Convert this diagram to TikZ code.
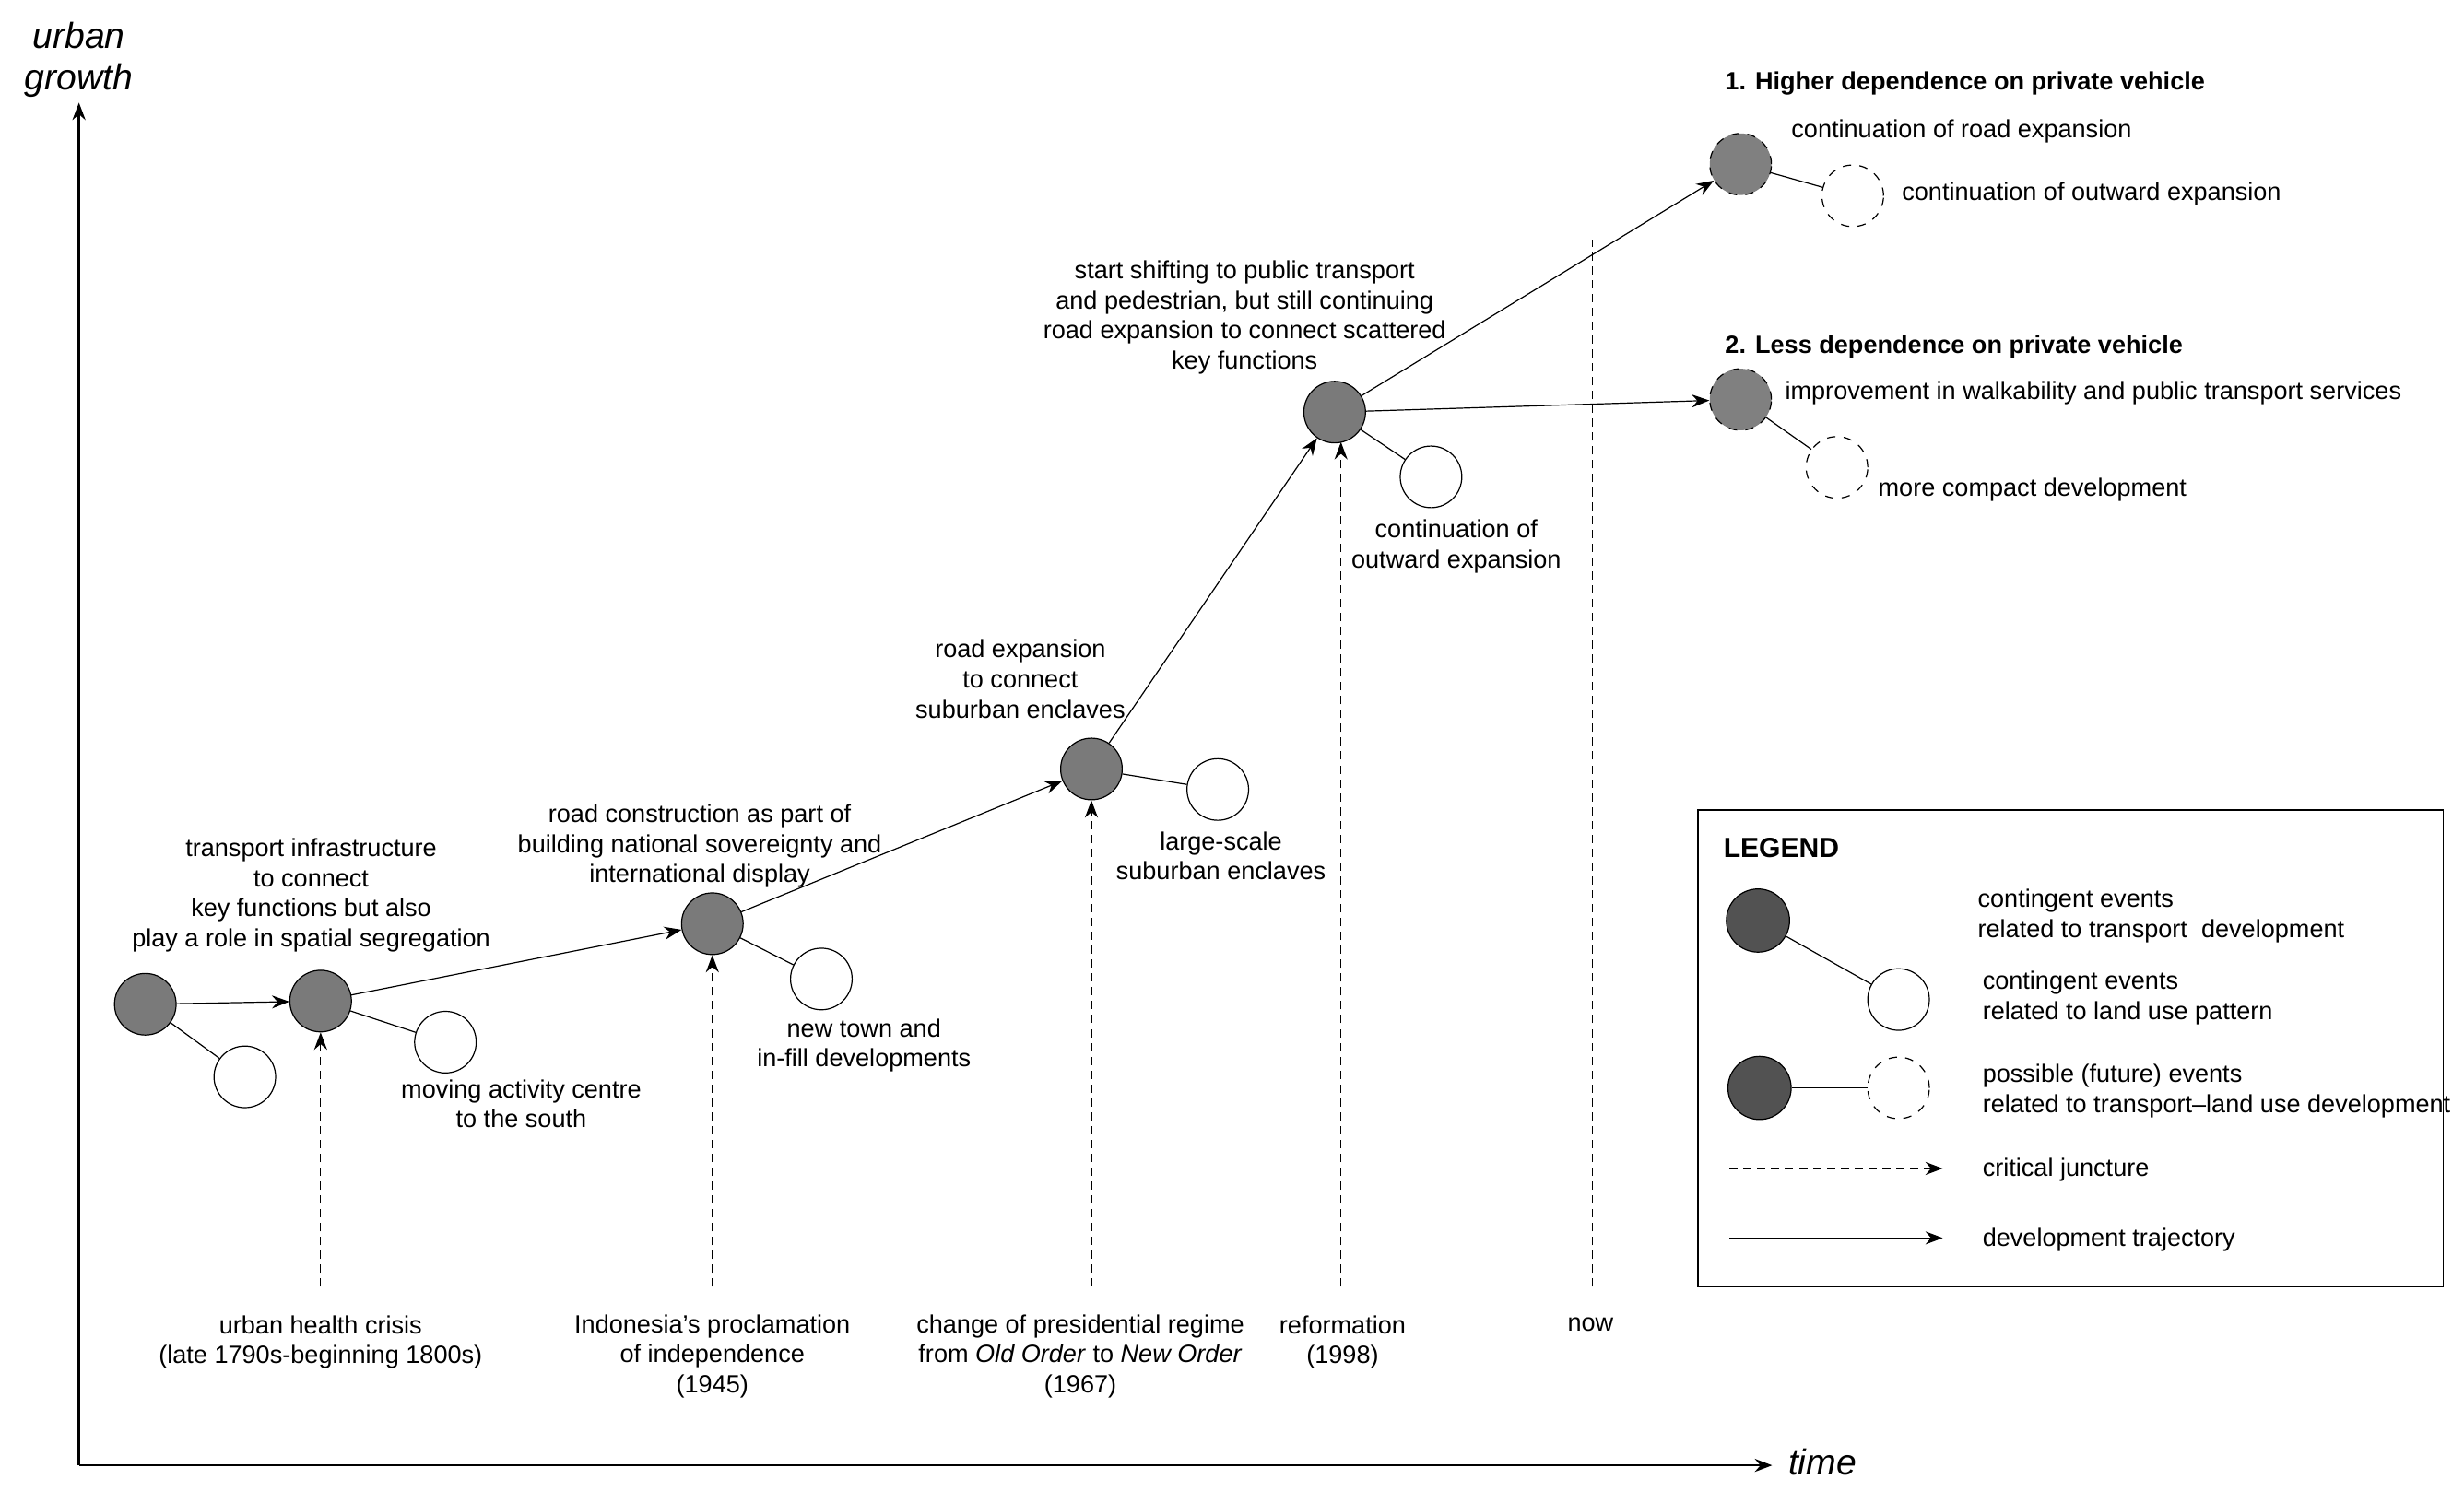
\documentclass[tikz,border=0pt]{standalone}
\usepackage{fontspec}
\setmainfont{Liberation Sans}
\usetikzlibrary{arrows.meta}
\begin{document}
\begin{tikzpicture}[
    x=0.02cm, y=-0.02cm,
    font=\fontsize{9}{10.8}\selectfont,
    event/.style={circle, draw, fill=gray!110!black, fill=black!52, minimum size=0.78cm, inner sep=0pt},
    landuse/.style={circle, draw, fill=white, minimum size=0.78cm, inner sep=0pt},
    future/.style={circle, draw, dashed, fill=black!50, minimum size=0.78cm, inner sep=0pt},
    futureland/.style={circle, draw, dashed, fill=white, minimum size=0.78cm, inner sep=0pt},
    legevent/.style={circle, draw, fill=black!68, minimum size=0.8cm, inner sep=0pt},
    label/.style={align=center},
    note/.style={align=left, anchor=west},
    arrow/.style={-{Stealth[length=2.2mm]}},
    juncture/.style={-{Stealth[length=2.2mm]}, densely dashed}
]
    \useasboundingbox (0,0) rectangle (1560,944);

    % axes
    \coordinate (origin) at (50,928);
    \coordinate (ytop) at (50,65);
    \coordinate (xend) at (1122,928);
    \draw [arrow, thick] (origin) -- (ytop);
    \draw [arrow, thick] (origin) -- (xend);
    \node [align=center, font=\fontsize{13}{15}\selectfont\itshape] (ylab) at (50,38) {urban\\growth};
    \node [anchor=west, font=\fontsize{13}{15}\selectfont\itshape] (xlab) at (1126,926) {time};

    % trajectory events
    \node [event] (e1) at (92,636) {};
    \node [event] (e2) at (203,634) {};
    \node [event] (e3) at (451,585) {};
    \node [event] (e4) at (691,487) {};
    \node [event] (e5) at (845,261) {};
    \node [future] (f1) at (1102,104) {};
    \node [future] (f2) at (1102,253) {};

    \node [landuse] (l1) at (155,682) {};
    \node [landuse] (l2) at (282,660) {};
    \node [landuse] (l3) at (520,620) {};
    \node [landuse] (l4) at (771,500) {};
    \node [landuse] (l5) at (906,302) {};
    \node [futureland] (g1) at (1173,124) {};
    \node [futureland] (g2) at (1163,296) {};

    \foreach \a/\b in {e1/l1, e2/l2, e3/l3, e4/l4, e5/l5, f1/g1, f2/g2}
        \draw (\a) -- (\b);

    \draw [arrow] (e1) -- (e2);
    \draw [arrow] (e2) -- (e3);
    \draw [arrow] (e3) -- (e4);
    \draw [arrow] (e4) -- (e5);
    \draw [arrow] (e5) -- (f1);
    \draw [arrow] (e5) -- (f2);

    % critical junctures
    \coordinate (j1) at (203,815);
    \coordinate (j2) at (451,815);
    \coordinate (j3) at (691,815);
    \coordinate (j4) at (849,815);
    \coordinate (now) at (1008,815);
    \coordinate (nowtop) at (1008,152);
    \draw [juncture] (j1) -- (e2);
    \draw [juncture] (j2) -- (e3);
    \draw [juncture] (j3) -- (e4);
    \draw [juncture] (j4) -- (849,280);
    \draw [densely dashed] (now) -- (nowtop);

    % event labels
    \node [label] (t1) at (197,567) {transport infrastructure\\to connect\\key functions but also\\play a role in spatial segregation};
    \node [label] (t2) at (330,699) {moving activity centre\\to the south};
    \node [label] (t3) at (443,536) {road construction as part of\\building national sovereignty and\\international display};
    \node [label] (t4) at (547,662) {new town and\\in-fill developments};
    \node [label] (t5) at (646,430) {road expansion\\to connect\\suburban enclaves};
    \node [label] (t6) at (773,542) {large-scale\\suburban enclaves};
    \node [label] (t7) at (788,201) {start shifting to public transport\\and pedestrian, but still continuing\\road expansion to connect scattered\\key functions};
    \node [label] (t8) at (922,346) {continuation of\\outward expansion};
    \node [note, font=\fontsize{9}{10.8}\selectfont\bfseries] (s1) at (1086,53) {1. Higher dependence on private vehicle};
    \node [note] (s1a) at (1128,83) {continuation of road expansion};
    \node [note] (s1b) at (1198,123) {continuation of outward expansion};
    \node [note, font=\fontsize{9}{10.8}\selectfont\bfseries] (s2) at (1086,220) {2. Less dependence on private vehicle};
    \node [note] (s2a) at (1124,249) {improvement in walkability and public transport services};
    \node [note] (s2b) at (1183,310) {more compact development};

    % juncture labels
    \node [label] (c1) at (203,850) {urban health crisis\\(late 1790s-beginning 1800s)};
    \node [label] (c2) at (451,859) {Indonesia’s proclamation\\of independence\\(1945)};
    \node [label] (c3) at (684,859) {change of presidential regime\\from \textit{Old Order} to \textit{New Order}\\(1967)};
    \node [label] (c4) at (850,850) {reformation\\(1998)};
    \node [label] (c5) at (1007,839) {now};

    % legend
    \draw (1075,513) rectangle (1547,815);
    \node [note, font=\fontsize{10}{12}\selectfont\bfseries] (leg) at (1085,537) {LEGEND};
    \node [legevent] (k1) at (1113,583) {};
    \node [landuse] (k2) at (1202,633) {};
    \node [legevent] (k3) at (1114,689) {};
    \node [futureland] (k4) at (1202,689) {};
    \draw (k1) -- (k2);
    \draw (k3) -- (k4);
    \coordinate (d1) at (1095,740);
    \coordinate (d2) at (1230,740);
    \coordinate (d3) at (1095,784);
    \coordinate (d4) at (1230,784);
    \draw [juncture] (d1) -- (d2);
    \draw [arrow] (d3) -- (d4);
    \node [note] (n1) at (1246,580) {contingent events\\related to transport\ \ development};
    \node [note] (n2) at (1249,632) {contingent events\\related to land use pattern};
    \node [note] (n3) at (1249,691) {possible (future) events\\related to transport–land use development};
    \node [note] (n4) at (1249,741) {critical juncture};
    \node [note] (n5) at (1249,785) {development trajectory};
\end{tikzpicture}
\end{document}
